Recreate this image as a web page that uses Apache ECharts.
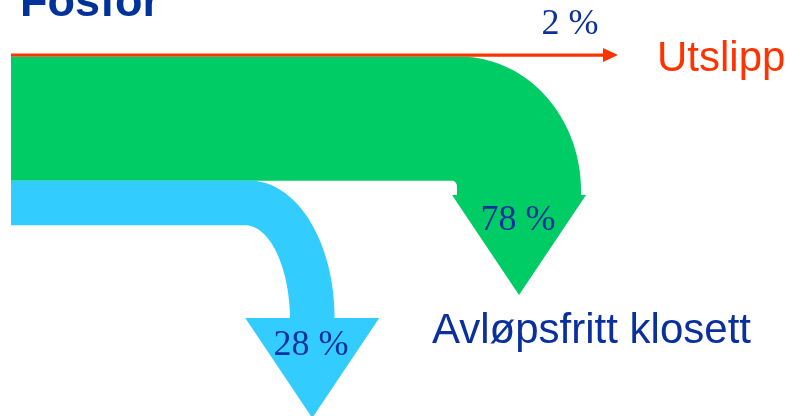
<!DOCTYPE html>
<html>
<head>
<meta charset="utf-8">
<script src="https://cdn.jsdelivr.net/npm/echarts@6/dist/echarts.min.js"></script>
<style>
  html, body { margin: 0; padding: 0; background: #fff; }
  #chart { width: 787px; height: 416px; }
</style>
</head>
<body>
<div id="chart"></div>
<script>
  // flow data (percent of total phosphorus)
  const flowValues = [2, 78, 28]
  const flowLabels = ['2 %', '78 %', '28 %']
  const targetNames = ['Utslipp', 'Avløpsfritt klosett', '']
  const flowColors = ['#ff3300', '#00cc66', '#33ccff']

  // layout of the diagram, in pixel-like axis units
  const PX_PER_PCT = 1.59
  const STACK_TOP = 53.5
  const START_X = 11
  const layout = [
    { kind: 'straight', endX: 603, headLen: 15, headHalf: 7,
      label: [570, 25], target: [657, 59], targetColor: '#ff3300' },
    { kind: 'bend', outerX: 460, outerRy: 134, innerStartX: 452, innerX: 457, innerRy: 6,
      baseY: 195, headHalf: 67, headLen: 100,
      label: [518, 221], target: [432, 331], targetColor: '#0a2f9e' },
    { kind: 'bend', outerX: 250, outerRy: 137, innerStartX: 245, innerX: 290, innerRy: 95,
      baseY: 318, headHalf: 67, headLen: 100,
      label: [311, 346], target: null }
  ]

  // stacked offsets of each band
  const offsets = []
  let acc = STACK_TOP
  flowValues.forEach(v => { offsets.push(acc); acc += v * PX_PER_PCT })

  // quarter ellipse sampled as points from (x0,y0) horizontal tangent to (x1,y1) vertical tangent
  const quarter = (x0, y0, x1, y1, steps) => {
    const pts = []
    const rx = x1 - x0
    const ry = y1 - y0
    for (let s = 0; s <= steps; s++) {
      const a = (Math.PI / 2) * (s / steps)
      pts.push([x0 + rx * Math.sin(a), y1 - ry * Math.cos(a)])
    }
    return pts
  }

  const buildShape = (i, value) => {
    const L = layout[i]
    const t = value * PX_PER_PCT
    const top = offsets[i]
    const bottom = top + t
    if (L.kind === 'straight') {
      const mid = top + t / 2
      return [
        [START_X, top], [L.endX, top], [L.endX, mid - L.headHalf],
        [L.endX + L.headLen, mid], [L.endX, mid + L.headHalf],
        [L.endX, bottom], [START_X, bottom]
      ]
    }
    const stemRight = L.innerX + t
    const cx = L.innerX + t / 2
    let pts = [[START_X, top]]
    pts = pts.concat(quarter(L.outerX, top, stemRight, top + L.outerRy, 40))
    pts.push([stemRight, L.baseY])
    pts.push([cx + L.headHalf, L.baseY])
    pts.push([cx, L.baseY + L.headLen])
    pts.push([cx - L.headHalf, L.baseY])
    pts.push([L.innerX, L.baseY])
    const inner = quarter(L.innerStartX, bottom, L.innerX, bottom + L.innerRy, 30).reverse()
    pts = pts.concat(inner)
    pts.push([START_X, bottom])
    return pts
  }

  const chart = echarts.init(document.getElementById('chart'))

  const option = {
    animation: false,
    backgroundColor: '#ffffff',
    title: {
      text: 'Fosfor',
      left: 15,
      top: -24,
      textStyle: {
        fontFamily: 'Liberation Sans',
        fontWeight: 'bold',
        fontSize: 45,
        color: '#003399'
      }
    },
    grid: { left: 0, right: 0, top: 0, bottom: 0 },
    xAxis: { type: 'value', min: 0, max: 787, show: false },
    yAxis: { type: 'value', min: 0, max: 416, inverse: true, show: false },
    series: [
      {
        type: 'custom',
        coordinateSystem: 'cartesian2d',
        data: flowValues.map((v, i) => ({ value: [i, v], name: targetNames[i] })),
        renderItem: (params, api) => {
          const i = api.value(0)
          const v = api.value(1)
          const L = layout[i]
          const points = buildShape(i, v).map(p => api.coord(p))
          const children = [
            {
              type: 'polygon',
              shape: { points },
              style: { fill: flowColors[i] }
            }
          ]
          const lp = api.coord(L.label)
          children.push({
            type: 'text',
            style: {
              text: flowLabels[i],
              x: lp[0],
              y: lp[1],
              align: 'center',
              verticalAlign: 'middle',
              fontFamily: 'Liberation Serif',
              fontSize: 36,
              fill: '#0a2f9e'
            }
          })
          if (L.target && targetNames[i]) {
            const tp = api.coord(L.target)
            children.push({
              type: 'text',
              style: {
                text: targetNames[i],
                x: tp[0],
                y: tp[1],
                align: 'left',
                verticalAlign: 'middle',
                fontFamily: 'Liberation Sans',
                fontSize: 42,
                fill: L.targetColor
              }
            })
          }
          return { type: 'group', children }
        }
      }
    ]
  }

  chart.setOption(option)
</script>
</body>
</html>
